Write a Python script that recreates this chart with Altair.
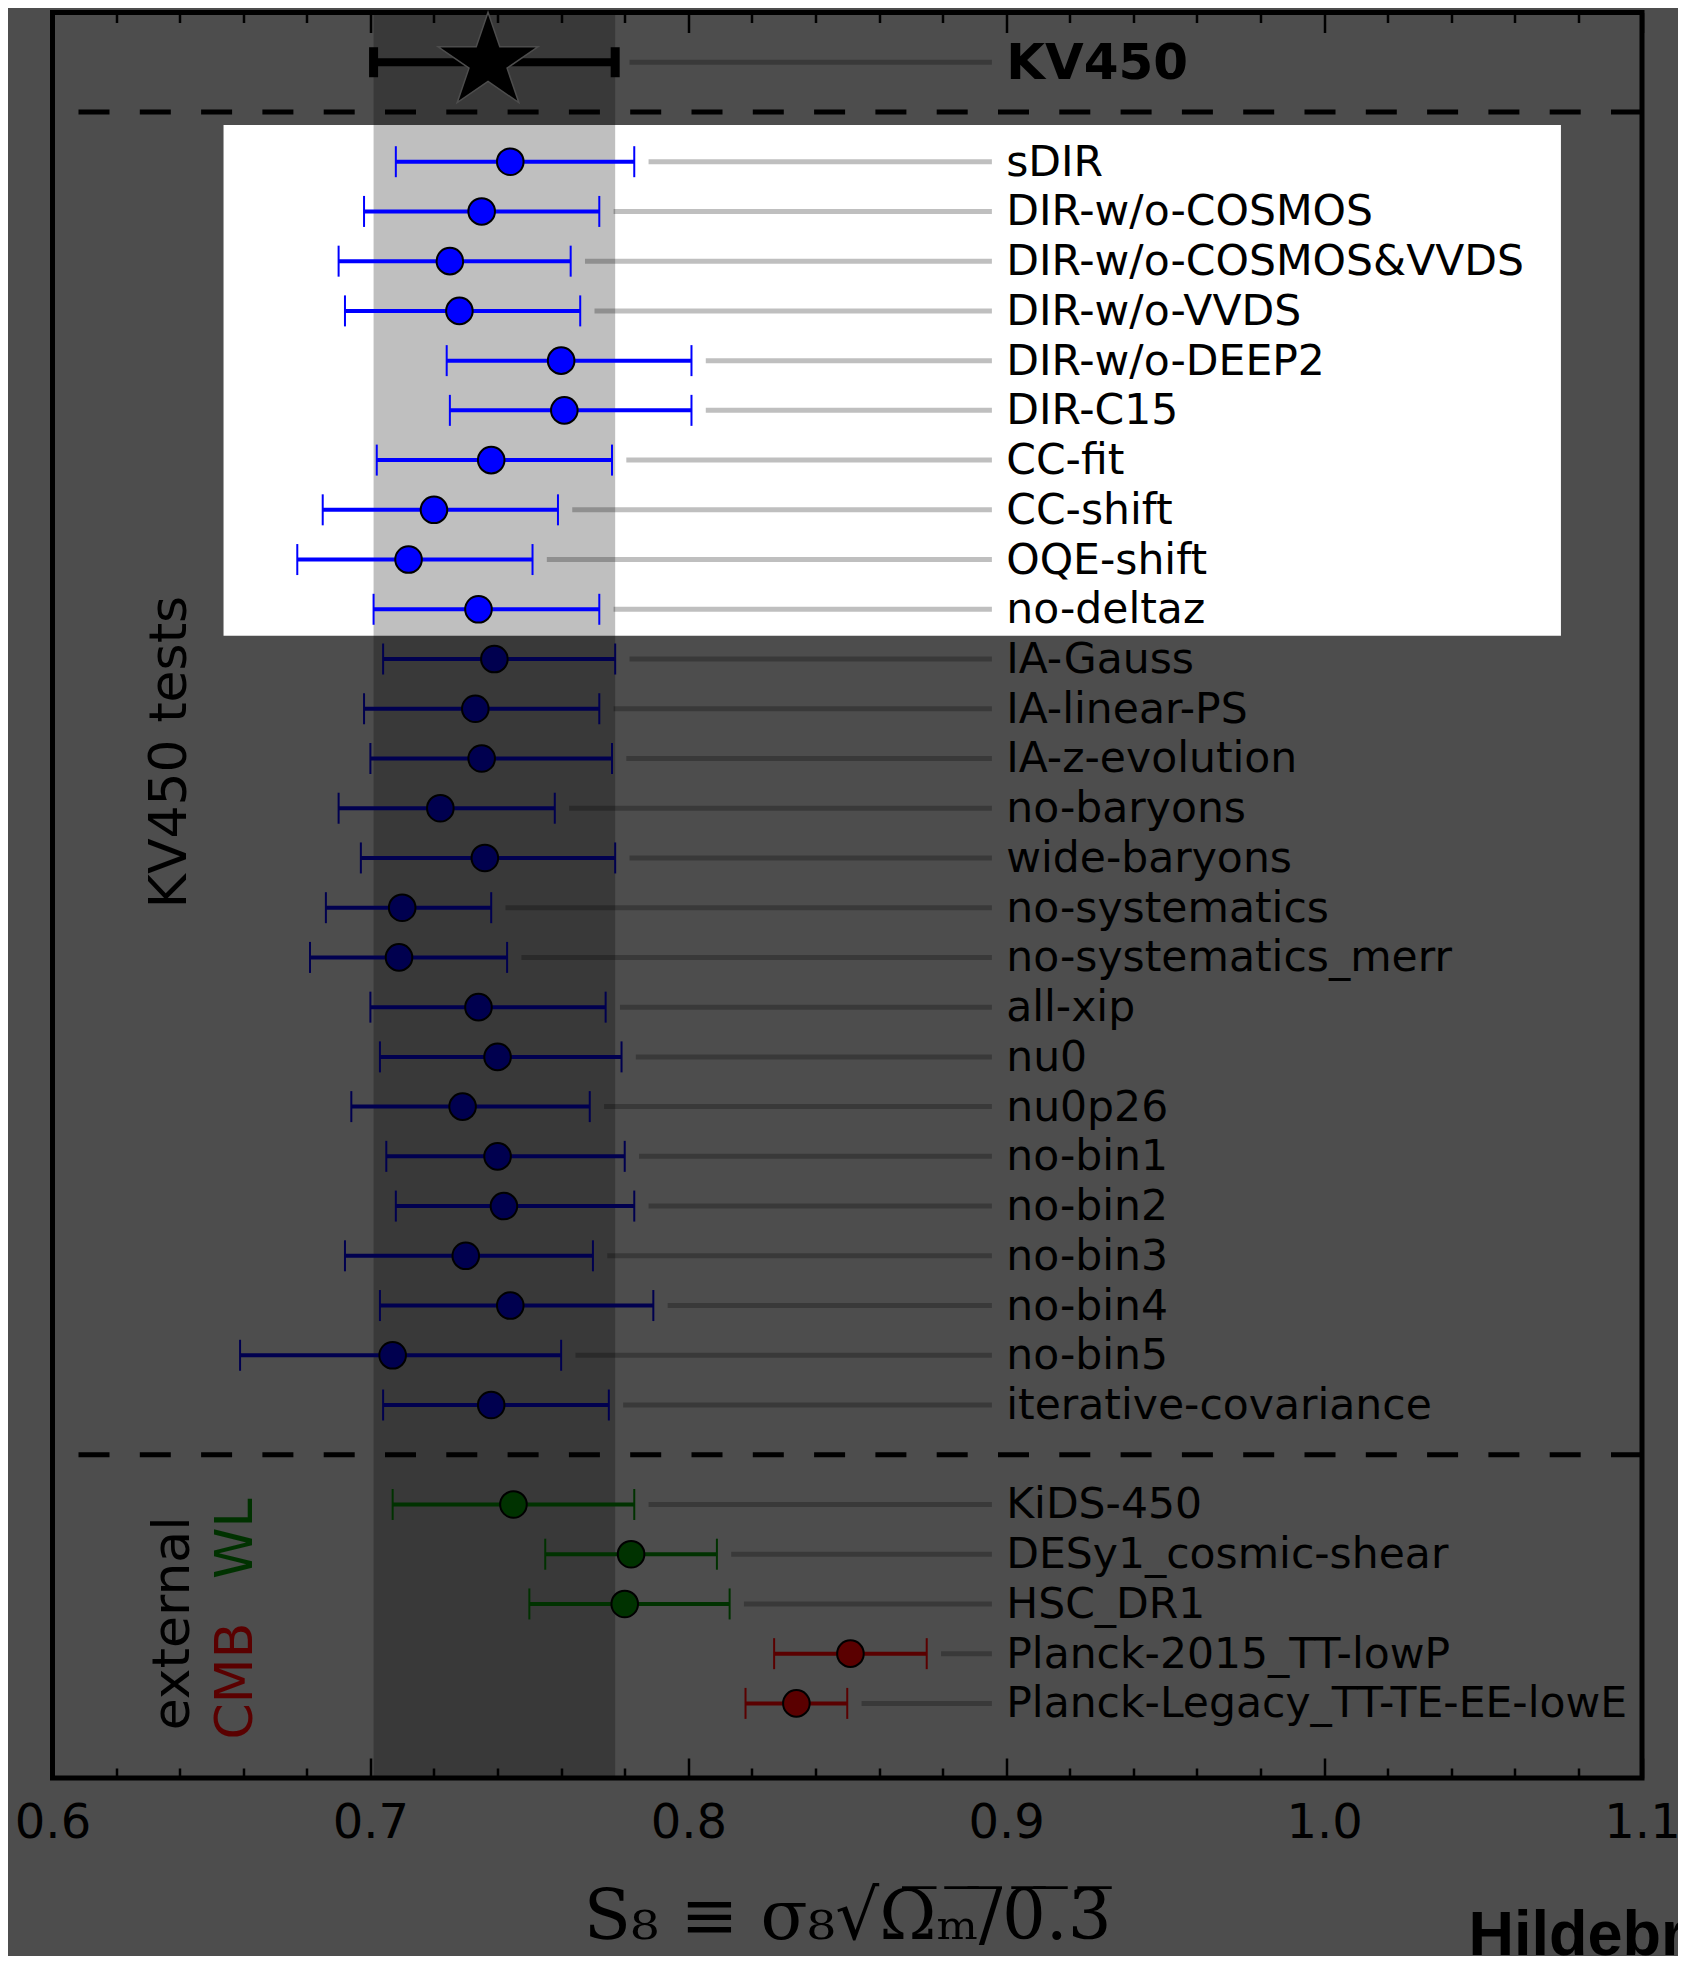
import altair as alt
import pandas as pd

# ---------------- data ----------------
kv450_label = "KV450"
kv450_mid = 0.737
kv450_lo = 0.701
kv450_hi = 0.777

test_labels = [
    "sDIR", "DIR-w/o-COSMOS", "DIR-w/o-COSMOS&VVDS", "DIR-w/o-VVDS",
    "DIR-w/o-DEEP2", "DIR-C15", "CC-fit", "CC-shift", "OQE-shift", "no-deltaz",
    "IA-Gauss", "IA-linear-PS", "IA-z-evolution", "no-baryons", "wide-baryons",
    "no-systematics", "no-systematics_merr", "all-xip", "nu0", "nu0p26",
    "no-bin1", "no-bin2", "no-bin3", "no-bin4", "no-bin5", "iterative-covariance",
]
test_mid = [0.744, 0.735, 0.725, 0.728, 0.760, 0.761, 0.738, 0.720, 0.712, 0.734,
            0.739, 0.733, 0.735, 0.722, 0.736, 0.710, 0.709, 0.734, 0.740, 0.729,
            0.740, 0.742, 0.730, 0.744, 0.707, 0.738]
test_lo = [0.708, 0.698, 0.690, 0.692, 0.724, 0.725, 0.702, 0.685, 0.677, 0.701,
           0.704, 0.698, 0.700, 0.690, 0.697, 0.686, 0.681, 0.700, 0.703, 0.694,
           0.705, 0.708, 0.692, 0.703, 0.659, 0.704]
test_hi = [0.783, 0.772, 0.763, 0.766, 0.801, 0.801, 0.776, 0.759, 0.751, 0.772,
           0.777, 0.772, 0.776, 0.758, 0.777, 0.738, 0.743, 0.774, 0.779, 0.769,
           0.780, 0.783, 0.770, 0.789, 0.760, 0.775]
n_highlighted = 10  # the redshift tests shown in the white box

ext_labels = ["KiDS-450", "DESy1_cosmic-shear", "HSC_DR1",
              "Planck-2015_TT-lowP", "Planck-Legacy_TT-TE-EE-lowE"]
ext_mid = [0.745, 0.782, 0.780, 0.851, 0.834]
ext_lo = [0.707, 0.755, 0.750, 0.827, 0.818]
ext_hi = [0.783, 0.809, 0.813, 0.875, 0.850]
ext_kind = ["WL", "WL", "WL", "CMB", "CMB"]

major_ticks = [0.6, 0.7, 0.8, 0.9, 1.0, 1.1]
minor_ticks = [0.62, 0.64, 0.66, 0.68, 0.72, 0.74, 0.76, 0.78, 0.82, 0.84,
               0.86, 0.88, 0.92, 0.94, 0.96, 0.98, 1.02, 1.04, 1.06, 1.08]

x_title = "S\u2088 \u2261 \u03c3\u2088\u221a\u03a9\u0305\u2098\u0305/\u03050\u0305.\u03053\u0305"
credit = "Hildebrandt et al. 2020"

# ---------------- styles ----------------
BG = "#4d4d4d"
COL_HI = "#0000ff"
COL_TEST = "#00004f"
COL_WL = "#003200"
COL_CMB = "#5a0000"
label_x = 0.9
line_end = 0.8955
line_gap = 0.0045

# ---------------- tables ----------------
rows = []
for i, lab in enumerate(test_labels):
    rows.append(dict(label=lab, mid=test_mid[i], lo=test_lo[i], hi=test_hi[i], row=i,
                     color=COL_HI if i < n_highlighted else COL_TEST))
for j, lab in enumerate(ext_labels):
    rows.append(dict(label=lab, mid=ext_mid[j], lo=ext_lo[j], hi=ext_hi[j],
                     row=len(test_labels) + 1 + j,
                     color=COL_WL if ext_kind[j] == "WL" else COL_CMB))
df = pd.DataFrame(rows)
df["seg0"] = df["hi"] + line_gap
df["seg1"] = line_end
df["tx"] = label_x

kv = pd.DataFrame([dict(label=kv450_label, mid=kv450_mid, lo=kv450_lo, hi=kv450_hi, row=-2,
                        seg0=kv450_hi + line_gap, seg1=line_end, tx=label_x)])
sep = pd.DataFrame({"row": [-1, len(test_labels)]})
box = pd.DataFrame([dict(x0=0.6538, x1=1.0745, y0=-0.74, y1=n_highlighted - 0.47)])
band = pd.DataFrame([dict(lo=kv450_lo, hi=kv450_hi)])
annots = pd.DataFrame([
    dict(text="KV450 tests", x=0.6369, row=11.87, color="black"),
    dict(text="external", x=0.6380, row=29.39, color="black"),
    dict(text="WL", x=0.6577, row=27.69, color=COL_WL),
    dict(text="CMB", x=0.6577, row=30.55, color=COL_CMB),
])
credit_df = pd.DataFrame([dict(text=credit, x=1.0454, row=36.06)])

xs = alt.Scale(domain=[0.6, 1.1], nice=False, zero=False)
ys = alt.Scale(domain=[-3, 32.5], reverse=True, nice=False, zero=False)

ax_common = dict(domain=False, grid=False, tickColor="black", tickWidth=2.5, zindex=1)
ax_bottom_major = alt.Axis(orient="bottom", values=major_ticks, offset=-20, tickSize=20,
                           format=".1f", labelFont="DejaVu Sans", labelFontSize=48,
                           labelColor="black", labelPadding=21, labelFlush=False,
                           labelOverlap=False, title=x_title, titleFont="DejaVu Serif",
                           titleFontSize=69, titleFontWeight="normal", titleColor="black",
                           titleBaseline="alphabetic", titleY=180, **ax_common)
ax_top_major = alt.Axis(orient="top", values=major_ticks, offset=-20, tickSize=20,
                        labels=False, title=None, **ax_common)
ax_bottom_minor = alt.Axis(orient="bottom", values=minor_ticks, offset=-10, tickSize=10,
                           labels=False, title=None, **ax_common)
ax_top_minor = alt.Axis(orient="top", values=minor_ticks, offset=-10, tickSize=10,
                        labels=False, title=None, **ax_common)

Y = lambda f: alt.Y(f, scale=ys, axis=None)
X = lambda f, ax=None: alt.X(f, scale=xs, axis=ax)

l_box = alt.Chart(box).mark_rect(color="white").encode(
    x=X("x0:Q", ax_bottom_minor), x2="x1:Q", y=Y("y0:Q"), y2="y1:Q")
l_band = alt.Chart(band).mark_rect(color="black", opacity=0.25).encode(
    x=X("lo:Q", ax_top_major), x2="hi:Q")
l_conn = alt.Chart(pd.concat([kv, df])).mark_rule(color="black", opacity=0.25, strokeWidth=5).encode(
    x=X("seg0:Q", ax_top_minor), x2="seg1:Q", y=Y("row:Q"))
l_sep = alt.Chart(sep).mark_rule(color="black", strokeWidth=5, strokeDash=[31, 30.3]).encode(
    y=Y("row:Q"))
l_err = alt.Chart(df).mark_rule(strokeWidth=4).encode(
    x=X("lo:Q"), x2="hi:Q", y=Y("row:Q"), color=alt.Color("color:N", scale=None))
l_caps = alt.Chart(df).transform_fold(["lo", "hi"], as_=["end", "val"]).mark_point(
    shape="M0,-1L0,1", size=961, strokeWidth=2, filled=False, opacity=1).encode(
    x=X("val:Q"), y=Y("row:Q"), color=alt.Color("color:N", scale=None))
l_pts = alt.Chart(df).mark_point(shape="circle", filled=True, size=707, stroke="black",
                                 strokeWidth=2, opacity=1).encode(
    x=X("mid:Q", ax_bottom_major), y=Y("row:Q"), fill=alt.Fill("color:N", scale=None))
l_kv_err = alt.Chart(kv).mark_rule(strokeWidth=8, color="black").encode(
    x=X("lo:Q"), x2="hi:Q", y=Y("row:Q"))
l_kv_caps = alt.Chart(kv).transform_fold(["lo", "hi"], as_=["end", "val"]).mark_point(
    shape="M0,-1L0,1", size=900, strokeWidth=9, filled=False, opacity=1, color="black").encode(
    x=X("val:Q"), y=Y("row:Q"))
star = ("M0,-1L0.236,-0.309L0.999,-0.309L0.381,0.118L0.617,0.809L0,0.382"
        "L-0.617,0.809L-0.381,0.118L-0.999,-0.309L-0.236,-0.309Z")
l_star = alt.Chart(kv).mark_point(shape=star, size=10000, filled=True, fill="black",
                                  stroke=BG, strokeWidth=1.5, opacity=1).encode(
    x=X("mid:Q"), y=Y("row:Q"))
l_labels = alt.Chart(df).mark_text(align="left", baseline="middle", font="DejaVu Sans",
                                   fontSize=42.5, color="black", dy=1).encode(
    x=X("tx:Q"), y=Y("row:Q"), text="label:N")
l_kv_label = alt.Chart(kv).mark_text(align="left", baseline="middle", font="DejaVu Sans",
                                     fontSize=50, fontWeight="bold", color="black", dy=2).encode(
    x=X("tx:Q"), y=Y("row:Q"), text="label:N")
l_annot = alt.Chart(annots).mark_text(angle=270, align="center", baseline="middle",
                                      font="DejaVu Sans", fontSize=52).encode(
    x=X("x:Q"), y=Y("row:Q"), text="text:N", color=alt.Color("color:N", scale=None))
l_credit = alt.Chart(credit_df).mark_text(align="left", baseline="alphabetic",
                                          font="Liberation Sans", fontSize=63,
                                          fontWeight="bold", color="black").encode(
    x=X("x:Q"), y=Y("row:Q"), text="text:N")

chart = alt.layer(
    l_box, l_band, l_conn, l_sep, l_err, l_caps, l_pts,
    l_kv_err, l_kv_caps, l_star, l_labels, l_kv_label, l_annot, l_credit,
).resolve_axis(x="independent").properties(
    width=1589.5, height=1765.5,
    autosize=alt.AutoSizeParams(type="none"),
    padding={"left": 44.5, "top": 4.5, "right": 36, "bottom": 178},
    background=BG,
).configure_view(stroke="black", strokeWidth=5)

chart.save("out.html", embed_options={"renderer": "svg", "actions": False})
